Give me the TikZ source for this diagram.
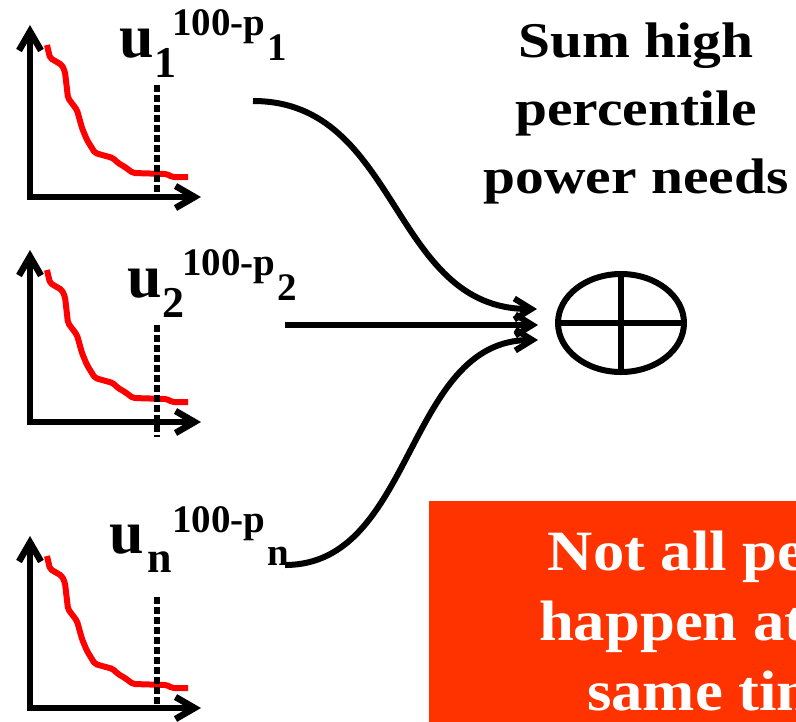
\documentclass[tikz,border=0pt]{standalone}
\usepackage{fontspec}
\setmainfont{Liberation Serif}[FakeStretch=1.15]
\newfontfamily\lblfont{Liberation Serif}
\newfontfamily\notefont{Liberation Serif}[FakeStretch=1.1]
\usetikzlibrary{arrows.meta,shapes.geometric,calc}
\definecolor{boxred}{HTML}{FF3300}
\begin{document}
\begin{tikzpicture}[x=1pt,y=-1pt,
  axis/.style={line width=6.5pt, line join=miter,
    {Straight Barb[length=19pt,width=22pt]}-{Straight Barb[length=19pt,width=22pt]}},
  curve/.style={red, line width=6pt, line join=round, rounded corners=2pt},
  pct/.style={line width=5.5pt, dash pattern=on 7pt off 3pt},
  conn/.style={line width=6pt, -{Straight Barb[length=17pt,width=21pt]}},
  ubig/.style={font=\lblfont\bfseries\fontsize{62}{62}\selectfont, inner sep=0pt, anchor=base west},
  usub/.style={font=\lblfont\bfseries\fontsize{44}{44}\selectfont, inner sep=0pt, anchor=base west},
  usup/.style={font=\lblfont\bfseries\fontsize{39}{39}\selectfont, inner sep=0pt, anchor=base west},
]
\useasboundingbox (0,0) rectangle (796,721);
\clip (0,0) rectangle (796,721);

% charts
\foreach \dy in {0,225,511}{
  \begin{scope}[shift={(0,\dy)}]
    \draw[axis] (30,25) -- (30,197) -- (201,197);
    \draw[curve] (47,45) -- (50,58) -- (62,65) -- (65,72) -- (68,98) -- (77,110)
      -- (82,128) -- (87,140) -- (95,153) -- (113,158) -- (118,163) -- (125,167)
      -- (133,173) -- (167,174) -- (172,177) -- (188,177);
  \end{scope}
}
\draw[pct] (157,85) -- (157,194);
\draw[pct] (157,325) -- (157,437);
\draw[pct] (157,597) -- (157,707);

% labels
\node[ubig] (u1) at (119,57) {u};
\node[usub] (u1s) at (154,77) {1};
\node[usup] (u1p) at (172,35) {100-p};
\node[usup] (u1ps) at (267,60) {1};

\node[ubig] (u2) at (127,297) {u};
\node[usub] (u2s) at (162,317) {2};
\node[usup] (u2p) at (182,275) {100-p};
\node[usup] (u2ps) at (277,300) {2};

\node[ubig] (un) at (109,553) {u};
\node[usub] (uns) at (147,572) {n};
\node[usup] (unp) at (172,532) {100-p};
\node[usup] (unps) at (267,565) {n};

% sum node
\node[draw, ellipse, line width=6pt, minimum width=126pt, minimum height=98pt, inner sep=0pt] (sum) at (621,323) {};
\draw[line width=6pt] (sum.west) -- (sum.east);
\draw[line width=6pt] (sum.north) -- (sum.south);

% connectors
\coordinate (s1) at (253,101);
\coordinate (s2) at (285,325);
\coordinate (s3) at (285,565);
\coordinate (e1) at ($(sum.west)+(-18,-14)$);
\coordinate (e2) at ($(sum.west)+(-17,2)$);
\coordinate (e3) at ($(sum.west)+(-17,17)$);
\draw[conn] (s1) .. controls (400,101) and (390,309) .. (e1);
\draw[conn] (s2) -- (e2);
\draw[conn] (s3) .. controls (415,565) and (405,340) .. (e3);

% title
\node[font=\bfseries\fontsize{50}{68}\selectfont, align=center, anchor=base, inner sep=0pt] (title) at (636,193) {Sum high\\percentile\\power needs};

% red note
\fill[boxred] (429,501) rectangle (1100,800);
\node[font=\notefont\bfseries\fontsize{57}{70}\selectfont, align=center, anchor=base, inner sep=0pt, text=white] (note) at (722,710) {Not all peaks\\happen at the\\same time};
\end{tikzpicture}
\end{document}
